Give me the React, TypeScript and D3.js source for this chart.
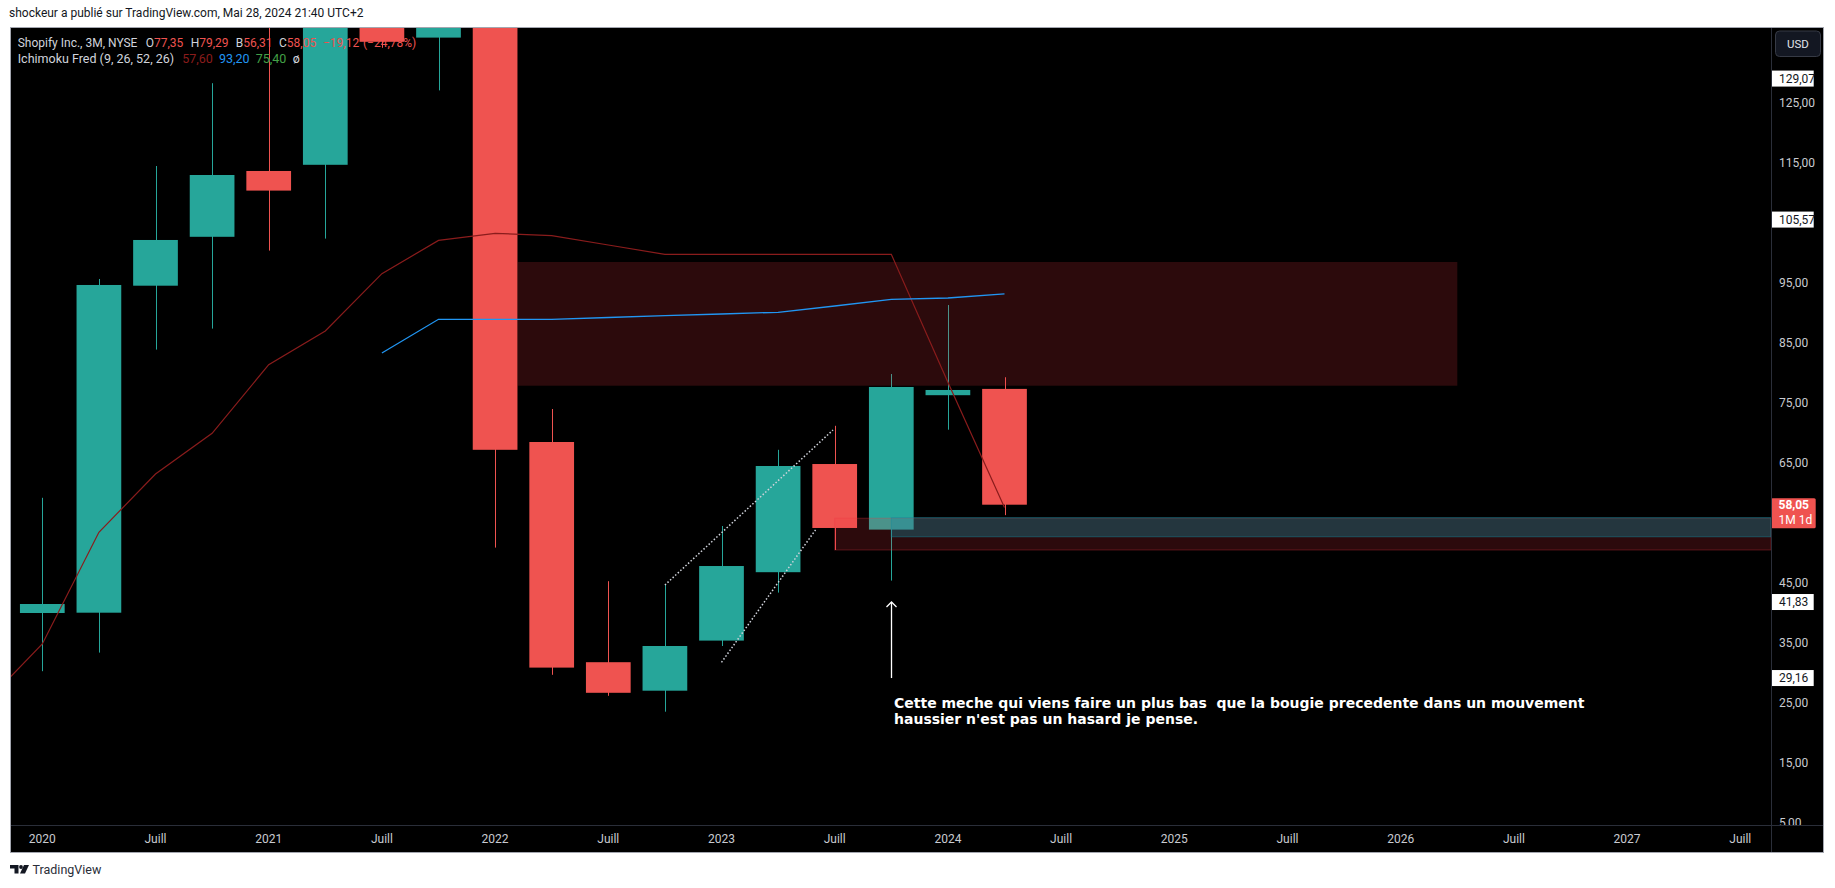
import React from "react"
import * as d3 from "d3"

// quarterly candles (3M), index 0 = Q1 2020
const periods = ["2020 T1", "2020 T2", "2020 T3", "2020 T4", "2021 T1", "2021 T2", "2021 T3", "2021 T4", "2022 T1", "2022 T2", "2022 T3", "2022 T4", "2023 T1", "2023 T2", "2023 T3", "2023 T4", "2024 T1", "2024 T2"]
const opens = [40.0, 40.05, 94.55, 102.7, 113.67, 114.7, 146.1, 135.9, 138.5, 68.5, 31.8, 27.05, 35.4, 46.8, 64.83, 53.9, 76.3, 77.35]
const highs = [59.2, 95.67, 114.5, 128.3, 154.0, 150.0, 157.0, 176.3, 139.0, 74.0, 45.3, 44.8, 54.5, 67.2, 71.2, 79.83, 91.33, 79.29]
const lows = [30.3, 33.4, 83.9, 87.4, 100.4, 102.4, 134.2, 127.1, 50.9, 29.7, 26.2, 23.55, 34.5, 43.4, 50.5, 45.4, 70.55, 56.31]
const closes = [41.5, 94.67, 102.17, 113.0, 110.4, 146.1, 135.2, 137.74, 67.2, 30.9, 26.7, 34.5, 47.83, 64.5, 54.17, 77.67, 77.17, 58.05]

// Ichimoku Fred lines (dark red starts one quarter before 2020, blue starts Q3 2021)
const redLineStart = -1
const redLine = [25.1, 34.83, 53.45, 63.17, 69.95, 81.38, 87.0, 96.55, 102.1, 103.28, 102.88, 101.33, 99.78, 99.78, 99.78, 99.78, 99.78, 78.45, 57.6]
const blueLineStart = 6
const blueLine = [83.33, 88.95, 88.95, 88.95, 89.25, 89.55, 89.83, 90.12, 91.17, 92.28, 92.5, 93.2]
const greenValue = 75.4

// axis ticks
const timeTickIdx = d3.range(0, 31, 2)
const timeTickLabels = ["2020", "Juill", "2021", "Juill", "2022", "Juill", "2023", "Juill", "2024", "Juill", "2025", "Juill", "2026", "Juill", "2027", "Juill"]
const priceTicks = [125, 115, 95, 85, 75, 65, 45, 35, 25, 15, 5]
const markedPrices = [129.07, 105.57, 41.83, 29.16]

// drawings: [startIdx, endIdx, top, bottom]
const zoneUpper = [8.4, 25.0, 98.5, 77.88]
const zoneLowRed = [14, 40, 55.8, 50.5]
const zoneTeal = [15, 40, 55.9, 52.7]
const trendUpper = [[11, 44.67], [13.97, 70.5]]
const trendLower = [[12, 31.78], [13.68, 54.1]]
const arrowIdx = 15
const arrowFrom = 29.16
const arrowTo = 41.83
const noteLines = ["Cette meche qui viens faire un plus bas  que la bougie precedente dans un mouvement", "haussier n'est pas un hasard je pense."]

const UP = "#26a69a"
const DOWN = "#ef5350"
const AXIS_TXT = "#c9cbd1"
const FONT = "Roboto, 'Noto Sans', sans-serif"
const PAGE_W = 1835
const PAGE_H = 888

const fmt = (v: number) => d3.format(".2f")(v).replace(".", ",").replace("-", "−")

export default function App() {
    const plot = { left: 10, top: 27, right: 1771, bottom: 825 }
    const frame = { right: 1824, bottom: 852 }

    const x = d3.scaleLinear().domain([0, 30]).range([42.3, 1740.3])
    const y = d3.scaleLinear().domain([5, 125]).range([823, 103])
    const bw = (x(1) - x(0)) * 0.79

    const redPath = d3.line<number>().x((_, i) => x(i + redLineStart)).y(d => y(d))(redLine) || ""
    const bluePath = d3.line<number>().x((_, i) => x(i + blueLineStart)).y(d => y(d))(blueLine) || ""

    const zoneRect = (z: number[]) => ({
        x: x(z[0]), y: y(z[2]), width: Math.min(x(z[1]), plot.right) - x(z[0]), height: y(z[3]) - y(z[2])
    })
    const zu = zoneRect(zoneUpper)
    const zr = zoneRect(zoneLowRed)
    const zt = zoneRect(zoneTeal)

    const last = closes.length - 1
    const change = closes[last] - closes[last - 1]
    const pct = change / closes[last - 1] * 100

    const ax = Math.round(x(arrowIdx)) + 0.5
    const ayTop = y(arrowTo)
    const ayBot = y(arrowFrom)

    return (
        <svg width={PAGE_W} height={PAGE_H} style={{ position: "fixed", left: 0, top: 0, background: "#fff" }} fontFamily={FONT}>
            <defs>
                <clipPath id="plotClip"><rect x={plot.left} y={plot.top} width={plot.right - plot.left} height={plot.bottom - plot.top} /></clipPath>
                <clipPath id="axisClip"><rect x={plot.right} y={plot.top} width={frame.right - plot.right} height={plot.bottom - plot.top} /></clipPath>
            </defs>

            <text x={9} y={17} fontSize={12} fill="#131722">shockeur a publié sur TradingView.com, Mai 28, 2024 21:40 UTC+2</text>

            {/* chart background */}
            <rect x={plot.left} y={plot.top} width={frame.right - plot.left} height={frame.bottom - plot.top} fill="#000" />

            <g clipPath="url(#plotClip)">
                {/* candles */}
                {periods.map((p, i) => {
                    const up = closes[i] >= opens[i]
                    const col = up ? UP : DOWN
                    const cx = Math.round(x(i)) + 0.5
                    const top = y(Math.max(opens[i], closes[i]))
                    const bot = y(Math.min(opens[i], closes[i]))
                    return (
                        <g key={p}>
                            <line x1={cx} x2={cx} y1={y(highs[i])} y2={y(lows[i])} stroke={col} strokeWidth={1} />
                            <rect x={x(i) - bw / 2} y={top} width={bw} height={Math.max(bot - top, 1)} fill={col} />
                        </g>
                    )
                })}

                {/* zones drawn over candles */}
                <rect {...zu} fill="rgba(242,54,69,0.18)" />
                <rect {...zr} fill="rgba(242,54,69,0.18)" stroke="rgba(242,54,69,0.3)" strokeWidth={1} />
                <rect {...zt} fill="rgba(20,140,160,0.34)" stroke="rgba(20,140,160,0.45)" strokeWidth={1} />

                {/* ichimoku */}
                <path d={redPath} fill="none" stroke="#8a1c1c" strokeWidth={1.2} />
                <path d={bluePath} fill="none" stroke="#2196f3" strokeWidth={1.3} />

                {/* trend lines */}
                {[trendUpper, trendLower].map((t, i) => (
                    <line key={i} x1={x(t[0][0])} y1={y(t[0][1])} x2={x(t[1][0])} y2={y(t[1][1])}
                        stroke="#d1d4dc" strokeWidth={1.5} strokeDasharray="1.5,2" />
                ))}

                {/* arrow */}
                <line x1={ax} x2={ax} y1={ayBot} y2={ayTop} stroke="#fff" strokeWidth={1.3} />
                <polyline points={`${ax - 5},${ayTop + 5} ${ax},${ayTop} ${ax + 5},${ayTop + 5}`} fill="none" stroke="#fff" strokeWidth={1.3} />

                {/* note */}
                <text fontSize={14} fontWeight={700} fill="#fff" fontFamily="'DejaVu Sans', sans-serif" style={{ whiteSpace: "pre" }}>
                    {noteLines.map((l, i) => (
                        <tspan key={i} x={x(arrowIdx) + 2.7} y={ayBot + 29.5 + i * 16.5}>{l}</tspan>
                    ))}
                </text>
            </g>

            {/* legend */}
            <text y={46.5} fontSize={12} fill="#d1d4dc" style={{ whiteSpace: "pre" }}>
                <tspan x={17.7}>Shopify Inc., 3M, NYSE</tspan>
                <tspan x={145.7}>O</tspan><tspan fill={DOWN}>{fmt(opens[last])}</tspan>
                <tspan x={190.7}>H</tspan><tspan fill={DOWN}>{fmt(highs[last])}</tspan>
                <tspan x={235.7}>B</tspan><tspan fill={DOWN}>{fmt(lows[last])}</tspan>
                <tspan x={279}>C</tspan><tspan fill={DOWN}>{fmt(closes[last])}</tspan>
                <tspan x={323} fill={DOWN}>{fmt(change)}</tspan>
                <tspan x={363} fill={DOWN}>({fmt(pct)}%)</tspan>
            </text>
            <text y={63} fontSize={12.5} fill="#d1d4dc" style={{ whiteSpace: "pre" }}>
                <tspan x={17.7}>Ichimoku Fred (9, 26, 52, 26)</tspan>
                <tspan x={182.3} fill="#8a1c1c">{fmt(redLine[redLine.length - 1])}</tspan>
                <tspan x={219} fill="#2196f3">{fmt(blueLine[blueLine.length - 1])}</tspan>
                <tspan x={255.7} fill="#43a047">{fmt(greenValue)}</tspan>
                <tspan x={292.7}>ø</tspan>
            </text>

            {/* price axis */}
            <g clipPath="url(#axisClip)">
                {priceTicks.map(v => (
                    <text key={v} x={1779} y={y(v)} dy="0.35em" fontSize={12} fill={AXIS_TXT}>{fmt(v)}</text>
                ))}
            </g>
            {markedPrices.map(v => (
                <g key={v}>
                    <rect x={plot.right} y={y(v) - 8} width={42.7} height={16} fill="#fff" />
                    <text x={1779} y={y(v)} dy="0.35em" fontSize={12} fill="#131722">{fmt(v)}</text>
                </g>
            ))}
            <rect x={plot.right} y={y(closes[last]) - 6.5} width={44.7} height={30} rx={1.5} fill={DOWN} />
            <text x={1778.5} y={y(closes[last]) + 4.5} fontSize={12} fontWeight={700} fill="#fff">{fmt(closes[last])}</text>
            <text x={1778.5} y={y(closes[last]) + 19.5} fontSize={12} fill="#fff">1M 1d</text>

            <rect x={1775.5} y={31} width={45} height={25.5} rx={4} fill="#131722" stroke="#363a45" />
            <text x={1798} y={44} dy="0.35em" textAnchor="middle" fontSize={11.5} fill="#e0e3eb">USD</text>

            {/* time axis */}
            {timeTickIdx.map((t, i) => (
                <text key={t} x={x(t)} y={838.5} dy="0.35em" textAnchor="middle" fontSize={12} fill={AXIS_TXT}>{timeTickLabels[i]}</text>
            ))}

            {/* separators and frame */}
            <line x1={plot.right + 0.5} x2={plot.right + 0.5} y1={plot.top} y2={frame.bottom} stroke="#2a2e39" />
            <line x1={plot.left} x2={frame.right} y1={plot.bottom + 0.5} y2={plot.bottom + 0.5} stroke="#2a2e39" />
            <rect x={plot.left + 0.5} y={plot.top + 0.5} width={frame.right - plot.left - 1} height={frame.bottom - plot.top} fill="none" stroke="#a3a6af" />

            {/* footer logo */}
            <g fill="#131722">
                <path d="M10 865 h8.5 v8.5 h-4 v-5 h-4.5 z" />
                <circle cx={21} cy={867} r={1.9} />
                <path d="M24 865 h5 l-4 8.5 h-5 z" />
            </g>
            <text x={32.5} y={874} fontSize={12.5} fill="#2a2e39">TradingView</text>
        </svg>
    )
}
